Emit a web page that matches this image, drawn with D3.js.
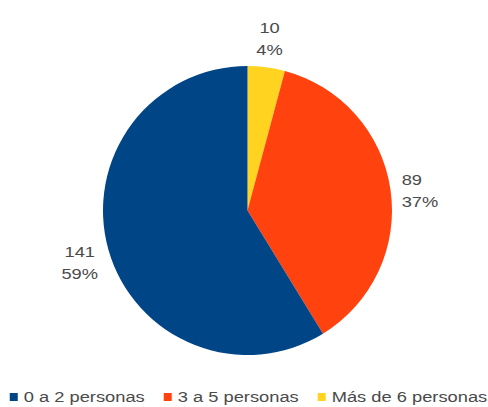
<!DOCTYPE html>
<html>
<head>
<meta charset="utf-8">
<script src="https://cdn.jsdelivr.net/npm/d3@7"></script>
<style>
  html, body { margin: 0; padding: 0; background: #ffffff; }
  svg { display: block; }
  text { font-family: "Liberation Sans", Arial, sans-serif; font-size: 15px; fill: #4a4a4a; }
</style>
</head>
<body>
<svg id="chart" width="488" height="407"></svg>
<script>
// Household size categories and counts
const categories = ["0 a 2 personas", "3 a 5 personas", "Más de 6 personas"];
const counts = [141, 89, 10];
const percents = ["59%", "37%", "4%"];
const colors = ["#004586", "#ff420e", "#ffd320"];

const width = 488, height = 407;
const cx = 247.5, cy = 210.5, radius = 144.5;
const stretchX = 1.22;   // text is drawn slightly wide
const labelRadius = 156;

const svg = d3.select("#chart");

// Slices are drawn clockwise from 12 o'clock, last category first
const order = [2, 1, 0];
const pie = d3.pie()
  .value(i => counts[i])
  .sort(null);
const arcs = pie(order);

const arc = d3.arc().innerRadius(0).outerRadius(radius);

const g = svg.append("g").attr("transform", `translate(${cx},${cy})`);

g.selectAll("path")
  .data(arcs)
  .join("path")
  .attr("d", arc)
  .attr("fill", d => colors[d.data]);

// Value / percent labels placed outside each slice
const labelArc = d3.arc().innerRadius(labelRadius).outerRadius(labelRadius);
const lineGap = 22;

arcs.forEach(d => {
  const i = d.data;
  const mid = (d.startAngle + d.endAngle) / 2;
  const [px, py] = labelArc.centroid(d);
  const lines = [String(counts[i]), percents[i]];

  const lg = g.append("g");
  const texts = lines.map((t, k) => lg.append("text")
    .attr("y", k * lineGap)
    .attr("text-anchor", "start")
    .text(t));

  const widths = texts.map(t => t.node().getComputedTextLength() * stretchX);
  const w = d3.max(widths);
  const h = 11 + lineGap;     // cap height plus line step
  const s = Math.sin(mid), c = Math.cos(mid);
  // box aligned so it sits on the far side of the anchor point;
  // side labels drop a little below the spoke
  const left = px - w * (1 - s) / 2;
  const top = py - h * (1 + c) / 2 + 7 * Math.abs(s) - 2;
  texts.forEach((t, k) => {
    const x0 = s > 0.7 ? left : left + (w - widths[k]) / 2;
    t.attr("transform", `translate(${x0},${top + 11}) scale(${stretchX},1)`);
  });
});

// Legend centred under the pie
const legend = svg.append("g");
const items = categories.map((name, i) => {
  const it = legend.append("g");
  it.append("rect").attr("width", 8).attr("height", 8).attr("y", -9).attr("fill", colors[i]);
  const t = it.append("text").attr("transform", `translate(14,0) scale(${stretchX},1)`).text(name);
  return { it, w: 14 + t.node().getComputedTextLength() * stretchX };
});
const gap = 19;
const total = d3.sum(items, d => d.w) + gap * (items.length - 1);
let x = cx + 1 - total / 2;
items.forEach(d => {
  d.it.attr("transform", `translate(${x},402)`);
  x += d.w + gap;
});
</script>
</body>
</html>
